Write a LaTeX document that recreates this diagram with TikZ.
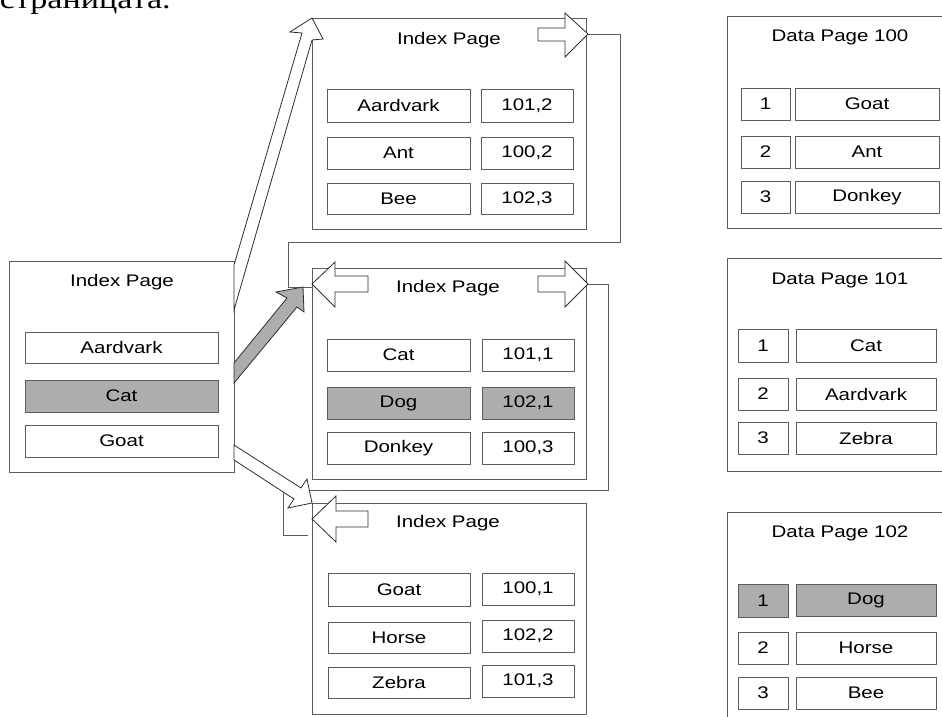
\documentclass[tikz,border=0pt]{standalone}
\usepackage{fontspec}
\setmainfont{Liberation Sans}
\newfontfamily\serifcyr{Liberation Serif}
\definecolor{edge}{HTML}{5C5C5C}
\definecolor{hl}{HTML}{ADADAD}
\definecolor{arrowedge}{HTML}{2E2E2E}
\newcommand{\stx}[1]{\scalebox{1.22}[1]{#1}}
% style, name, x1, x2, y1, y2, text
\newcommand{\mkcell}[7]{\node[#1, minimum width={(#4)-(#3)}, minimum height={(#6)-(#5)}] (#2) at ({((#3)+(#4))/2},{((#5)+(#6))/2}) {\stx{#7}};}
% name, x1, x2, y1, y2
\newcommand{\mkpage}[5]{\node[pagebox, minimum width={(#3)-(#2)}, minimum height={(#5)-(#4)}] (#1) at ({((#2)+(#3))/2},{((#4)+(#5))/2}) {};}
\tikzset{
  pagebox/.style={draw=edge, fill=white, line width=1pt, inner sep=0pt},
  cell/.style={draw=edge, fill=white, line width=0.9pt, inner sep=0pt, font=\fontsize{16.8}{18}\selectfont, text=black},
  hlcell/.style={cell, fill=hl},
  title/.style={font=\fontsize{16.8}{18}\selectfont, text=black, inner sep=0pt},
  blockarrow/.style={draw=arrowedge, line width=0.8pt, fill=white, line join=miter},
  grayarrow/.style={blockarrow, fill=hl},
  link/.style={draw=edge, line width=0.9pt}
}
\begin{document}
\begin{tikzpicture}[x=1pt,y=-1pt]
\useasboundingbox (0,0) rectangle (942,717);
\fill[white] (0,0) rectangle (942,717);

% clipped caption text at top (cut off in the reference too)
\node[anchor=base east, inner sep=0pt, font=\serifcyr\fontsize{28}{30}\selectfont] (cap) at (171,8.5) {\stx{страницата.}};

% ---- pages ----
\mkpage{rootpg}{9}{234}{261}{472}
\mkpage{toppg}{312}{586}{19}{229}
\mkpage{midpg}{312}{586}{268}{479}
\mkpage{botpg}{312}{586}{503}{714}
\mkpage{dp100}{727}{952}{17}{228}
\mkpage{dp101}{727}{952}{258}{471}
\mkpage{dp102}{727}{952}{512}{730}

% titles
\node[title] (t0) at (122,282) {\stx{Index Page}};
\node[title] (t1) at (449,40) {\stx{Index Page}};
\node[title] (t2) at (448,288) {\stx{Index Page}};
\node[title] (t3) at (448,523) {\stx{Index Page}};
\node[title] (t4) at (840,37) {\stx{Data Page 100}};
\node[title] (t5) at (840,280) {\stx{Data Page 101}};
\node[title] (t6) at (840,533) {\stx{Data Page 102}};

% root index rows
\mkcell{cell}{r1}{25}{218}{332}{363}{Aardvark}
\mkcell{hlcell}{r2}{25}{218}{380}{412}{Cat}
\mkcell{cell}{r3}{25}{218}{425}{457}{Goat}

% top index page
\mkcell{cell}{a1}{327}{470}{89}{122}{Aardvark}
\mkcell{cell}{a1v}{481}{573}{89}{122}{101,2}
\mkcell{cell}{a2}{327}{470}{137}{169}{Ant}
\mkcell{cell}{a2v}{481}{573}{137}{169}{100,2}
\mkcell{cell}{a3}{327}{470}{183}{214}{Bee}
\mkcell{cell}{a3v}{481}{573}{183}{214}{102,3}

% middle index page
\mkcell{cell}{b1}{327}{470}{339}{371}{Cat}
\mkcell{cell}{b1v}{482}{574}{339}{371}{101,1}
\mkcell{hlcell}{b2}{327}{470}{387}{419}{Dog}
\mkcell{hlcell}{b2v}{482}{574}{387}{419}{102,1}
\mkcell{cell}{b3}{327}{470}{432}{464}{Donkey}
\mkcell{cell}{b3v}{482}{574}{432}{464}{100,3}

% bottom index page
\mkcell{cell}{c1}{328}{470}{573}{606}{Goat}
\mkcell{cell}{c1v}{482}{574}{573}{605}{100,1}
\mkcell{cell}{c2}{328}{470}{622}{653}{Horse}
\mkcell{cell}{c2v}{482}{574}{620}{652}{102,2}
\mkcell{cell}{c3}{328}{470}{667}{698}{Zebra}
\mkcell{cell}{c3v}{482}{574}{665}{697}{101,3}

% data page 100
\mkcell{cell}{d1n}{741}{790}{88}{120}{1}
\mkcell{cell}{d1}{795}{939}{88}{120}{Goat}
\mkcell{cell}{d2n}{741}{790}{136}{168}{2}
\mkcell{cell}{d2}{795}{939}{136}{168}{Ant}
\mkcell{cell}{d3n}{741}{790}{181}{213}{3}
\mkcell{cell}{d3}{795}{939}{181}{213}{Donkey}

% data page 101
\mkcell{cell}{e1n}{738}{788}{329}{362}{1}
\mkcell{cell}{e1}{796}{936}{329}{362}{Cat}
\mkcell{cell}{e2n}{738}{788}{378}{410}{2}
\mkcell{cell}{e2}{796}{936}{378}{410}{Aardvark}
\mkcell{cell}{e3n}{738}{788}{422}{454}{3}
\mkcell{cell}{e3}{796}{936}{422}{454}{Zebra}

% data page 102
\mkcell{hlcell}{f1n}{738}{788}{584}{617}{1}
\mkcell{hlcell}{f1}{796}{936}{584}{616}{Dog}
\mkcell{cell}{f2n}{738}{788}{632}{664}{2}
\mkcell{cell}{f2}{796}{936}{632}{664}{Horse}
\mkcell{cell}{f3n}{738}{788}{677}{709}{3}
\mkcell{cell}{f3}{796}{936}{677}{709}{Bee}

% ---- sibling links ----
\coordinate (n1tip) at (588,34);
\coordinate (p2tip) at (312,287);
\coordinate (n2tip) at (588,284);
\coordinate (p3tip) at (308,535);
\draw[link] (n1tip) -- (620,34) -- (620,242) -- (288,242) -- (288,287) -- (p2tip);
\draw[link] (n2tip) -- (608,284) -- (608,490) -- (283,490) -- (283,535) -- (p3tip);

% next / prev block arrows on pages
\draw[blockarrow] (538,28) -- (565,28) -- (565,13) -- (n1tip) -- (565,57) -- (565,41) -- (538,41) -- cycle;
\draw[blockarrow] (538,276) -- (565,276) -- (565,261) -- (n2tip) -- (565,307) -- (565,292) -- (538,292) -- cycle;
\draw[blockarrow] (368,276) -- (335,276) -- (335,262) -- (312,284) -- (335,307) -- (335,292) -- (368,292) -- cycle;
\draw[blockarrow] (368,511) -- (336,511) -- (336,496) -- (312,519) -- (336,542) -- (336,527) -- (368,527) -- cycle;

% child pointers from root page
\coordinate (k1) at (312,18);
\coordinate (k2) at (303,287);
\coordinate (k3) at (312,503);
\draw[blockarrow] (234,265) -- (302,33) -- (290,32) -- (k1) -- (323,39) -- (312,40) -- (234,310) -- cycle;
\draw[grayarrow] (234,363) -- (287,298) -- (276,292) -- (k2) -- (304,312) -- (297,307) -- (234,383) -- cycle;
\draw[blockarrow] (234,445) -- (301,488) -- (307,479) -- (k3) -- (288,508) -- (294,499) -- (234,460) -- cycle;
\end{tikzpicture}
\end{document}
